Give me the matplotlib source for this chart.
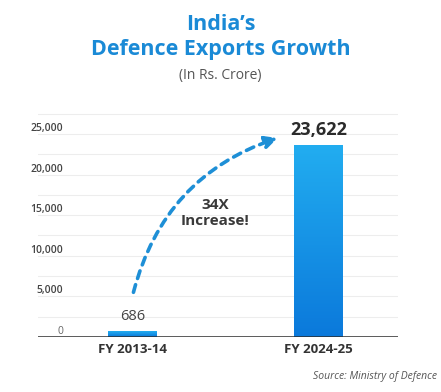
import numpy as np
import matplotlib
matplotlib.use("Agg")
import matplotlib.pyplot as plt
from matplotlib.colors import LinearSegmentedColormap
from matplotlib.transforms import ScaledTranslation

plt.rcParams["font.family"] = ["Open Sans", "DejaVu Sans"]

years = ["FY 2013-14", "FY 2024-25"]
exports = [686, 23622]
value_labels = ["686", "23,622"]
tick_values = [0, 5000, 10000, 15000, 20000, 25000]
tick_labels = ["0", "5,000", "10,000", "15,000", "20,000", "25,000"]

fig = plt.figure(figsize=(4.41, 3.92), dpi=100)
ax = fig.add_axes([38 / 441, 1 - 337 / 392, 360 / 441, 227 / 392])

x = np.arange(len(years))
bar_w = 0.263
ax.set_xlim(-0.508, 1.427)
ax.set_ylim(0, 27950)

# bars with a vertical blue gradient
cmap = LinearSegmentedColormap.from_list("blu", ["#0b79db", "#22adf0"])
grad = np.linspace(0, 1, 256).reshape(-1, 1)
bars = ax.bar(x, exports, width=bar_w, color="none", zorder=3)
for b in bars:
    x0, y0 = b.get_x(), b.get_y()
    im = ax.imshow(grad, cmap=cmap, origin="lower", aspect="auto",
                   extent=[x0, x0 + b.get_width(), y0, y0 + b.get_height()],
                   zorder=3)
    im.set_clip_path(b)

# gridlines every 2500
for g in np.arange(2500, 27501, 2500):
    ax.axhline(g, color="#ededed", lw=0.8, zorder=0)
ax.axhline(0, color="#2b2b2b", lw=1.8, zorder=4)

for s in ax.spines.values():
    s.set_visible(False)
ax.set_xticks(x)
ax.set_xticklabels(years, fontsize=9.5, fontweight="bold", color="#333333")
ax.tick_params(axis="x", length=0, pad=4)
ax.set_yticks(tick_values)
ax.set_yticklabels(tick_labels, fontsize=7.5, color="#444444", fontweight="semibold")
ax.tick_params(axis="y", length=0, pad=-18)
for lab in ax.get_yticklabels():
    lab.set_horizontalalignment("right")
    lab.set_transform(lab.get_transform() + ScaledTranslation(0, 7 / 100, fig.dpi_scale_trans))
for lab in ax.get_yticklabels()[:1]:
    lab.set_color("#666666")
    lab.set_fontweight("normal")

# value labels
ax.text(x[0], exports[0] + 900, value_labels[0], ha="center", va="bottom",
        fontsize=10.5, color="#444444")
ax.text(x[1], exports[1] + 700, value_labels[1], ha="center", va="bottom",
        fontsize=13, fontweight="bold", color="#2b2b2b")

# curved dashed arrow
ax.annotate("", xy=(0.78, 24500), xytext=(0.005, 5500),
            arrowprops=dict(arrowstyle="-|>", connectionstyle="arc3,rad=-0.27",
                            linestyle=(0, (2.2, 1.8)), lw=2.6, color="#1e8fd6",
                            mutation_scale=18, shrinkA=0, shrinkB=0),
            zorder=5)
ax.text(0.445, 15300, "34X\nIncrease!", ha="center", va="center", fontsize=11,
        fontweight="bold", color="#3a3a3a", linespacing=1.15)

# titles
fig.text(0.5, 1 - 24 / 392, "India\u2019s", ha="center", va="center",
         fontsize=15.5, fontweight="bold", color="#1a8ad6")
fig.text(0.5, 1 - 49 / 392, "Defence Exports Growth", ha="center", va="center",
         fontsize=15.5, fontweight="bold", color="#1a8ad6")
fig.text(0.5, 1 - 75 / 392, "(In Rs. Crore)", ha="center", va="center",
         fontsize=10, color="#555555")
fig.text(437 / 441, 1 - 376 / 392, "Source: Ministry of Defence", ha="right",
         va="center", fontsize=7.5, style="italic", color="#555555")

fig.savefig("out.png", dpi=100)
